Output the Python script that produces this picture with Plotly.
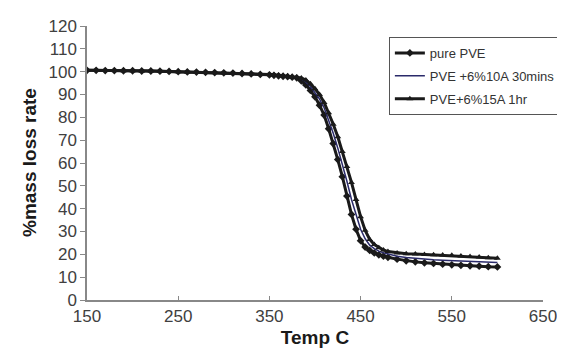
import plotly.graph_objects as go

temp = [150, 160, 170, 180, 190, 200, 210, 220, 230, 240, 250, 260, 270, 280, 290,
        300, 310, 320, 330, 340, 350, 355, 360, 365, 370, 375, 380, 385, 390, 395,
        400, 405, 410, 415, 420, 425, 430, 435, 440, 445, 450, 455, 460, 465, 470,
        475, 480, 490, 500, 510, 520, 530, 540, 550, 560, 570, 580, 590, 600]

pure_pve = [100.6, 100.6, 100.5, 100.5, 100.4, 100.4, 100.3, 100.3, 100.2, 100.1, 100.0, 99.9, 99.8, 99.7, 99.6,
            99.5, 99.4, 99.2, 99.0, 98.8, 98.6, 98.4, 98.2, 98.0, 97.8, 97.6, 97.3, 96.0, 94.2, 91.8,
            89.0, 85.3, 81.0, 75.0, 68.5, 61.5, 54.0, 45.5, 37.5, 31.0, 26.0, 23.2, 21.7, 20.6, 19.8,
            19.2, 18.7, 17.9, 17.2, 16.7, 16.3, 16.0, 15.7, 15.4, 15.2, 15.0, 14.8, 14.6, 14.5]

pve_10a = [100.6, 100.6, 100.5, 100.5, 100.4, 100.4, 100.3, 100.3, 100.2, 100.1, 100.0, 99.9, 99.8, 99.7, 99.6,
           99.5, 99.4, 99.3, 99.1, 98.9, 98.7, 98.5, 98.3, 98.1, 97.9, 97.7, 97.5, 96.8, 95.5, 93.5,
           91.0, 88.0, 84.2, 79.0, 73.0, 66.5, 59.5, 52.0, 44.0, 37.0, 31.0, 26.8, 24.0, 22.5, 21.4,
           20.7, 20.1, 19.2, 18.6, 18.2, 17.9, 17.6, 17.4, 17.2, 17.0, 16.8, 16.6, 16.5, 16.4]

pve_15a = [100.6, 100.6, 100.5, 100.5, 100.4, 100.4, 100.3, 100.3, 100.2, 100.1, 100.0, 99.9, 99.8, 99.7, 99.6,
           99.5, 99.4, 99.3, 99.2, 99.0, 98.8, 98.6, 98.4, 98.2, 98.0, 97.8, 97.6, 97.2, 96.3, 94.7,
           92.5, 90.0, 86.5, 82.0, 77.0, 71.5, 65.0, 58.5, 51.5, 44.0, 36.5, 30.5, 26.5, 24.3, 22.9,
           21.9, 21.2, 20.6, 20.3, 20.1, 19.9, 19.8, 19.7, 19.6, 19.3, 19.0, 18.8, 18.5, 18.3]

x_ticks = [150, 250, 350, 450, 550, 650]
y_ticks = [0, 10, 20, 30, 40, 50, 60, 70, 80, 90, 100, 110, 120]

fig = go.Figure()
fig.add_trace(go.Scatter(x=temp, y=pure_pve, name="pure PVE", mode="lines+markers",
                         legendgroup="a",
                         line=dict(color="#1a1a1a", width=3),
                         marker=dict(symbol="diamond", size=6, color="#1a1a1a")))
fig.add_trace(go.Scatter(x=temp, y=pve_10a, name="PVE +6%10A 30mins", mode="lines",
                         legendgroup="b",
                         line=dict(color="#2a2a6a", width=1.5)))
fig.add_trace(go.Scatter(x=temp, y=pve_15a, name="PVE+6%15A 1hr", mode="lines+markers",
                         legendgroup="c",
                         line=dict(color="#1a1a1a", width=3),
                         marker=dict(symbol="triangle-up", size=6, color="#1a1a1a")))

family = "Liberation Sans, Arial, sans-serif"
axis_font = dict(family=family, size=17, color="#404040")
fig.update_layout(
    width=565, height=349,
    margin=dict(l=79, r=27, t=18, b=57),
    paper_bgcolor="white", plot_bgcolor="white",
    font=dict(family=family),
    showlegend=True,
    legend=dict(x=0.662, y=0.96, xanchor="left", yanchor="top",
                bgcolor="white", bordercolor="#555555", borderwidth=1,
                font=dict(family=family, size=13, color="#333333"),
                itemwidth=30, tracegroupgap=3),
    xaxis=dict(range=[150, 650], tickvals=x_ticks, ticks="inside", ticklen=4,
               tickcolor="#888888", showline=True, linecolor="#888888", linewidth=1.5,
               showgrid=False, zeroline=False, tickfont=axis_font, automargin=False,
               title=dict(text="<b>Temp C</b>", standoff=6,
                          font=dict(family=family, size=19, color="#1a1a1a"))),
    yaxis=dict(range=[0, 120], tickvals=y_ticks, ticks="outside", ticklen=5,
               tickcolor="#888888", showline=True, linecolor="#888888", linewidth=1.5,
               showgrid=False, zeroline=False, tickfont=axis_font, automargin=False),
    annotations=[dict(text="<b>%mass loss rate</b>", textangle=-90,
                      xref="paper", yref="paper", x=0, y=0.5,
                      xanchor="center", yanchor="middle", xshift=-58, showarrow=False,
                      font=dict(family=family, size=19, color="#1a1a1a"))],
)

fig.write_html("out.html")
